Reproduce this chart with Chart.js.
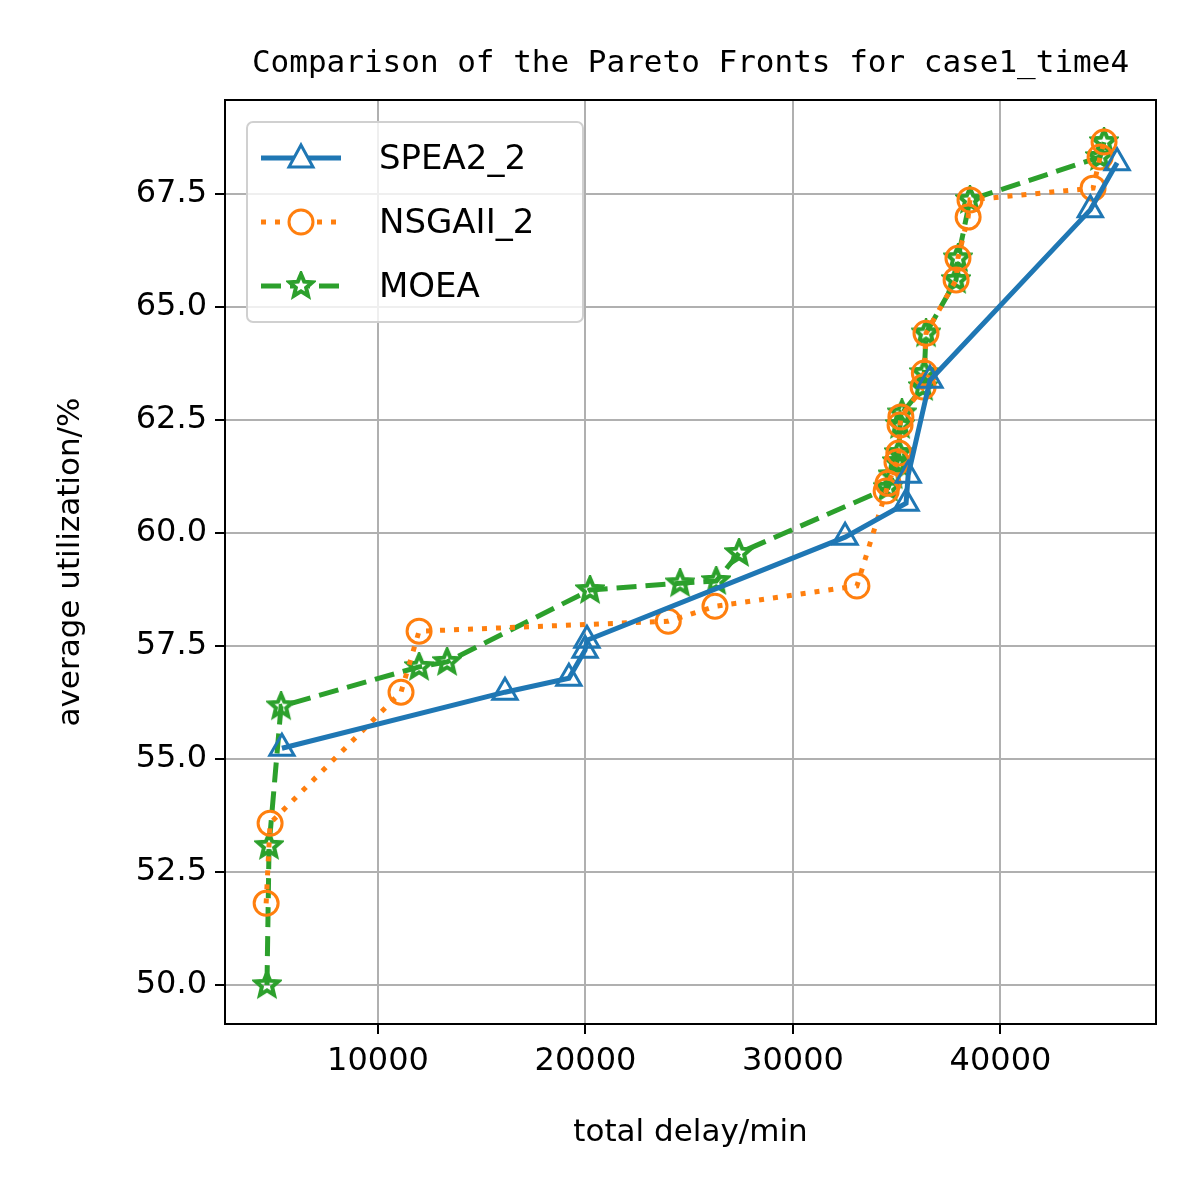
<!DOCTYPE html>
<html>
<head>
<meta charset="utf-8">
<script src="https://cdn.jsdelivr.net/npm/chart.js@4.4.0/dist/chart.umd.min.js"></script>
<style>body{margin:0;background:#fff}</style>
</head>
<body>
<canvas id="c" width="1200" height="1200"></canvas>
<script>
// data
const speaX = [5370, 16120, 19200, 19980, 20070, 32510, 35450, 35550, 36600, 44330, 45620];
const speaY = [55.24, 56.48, 56.79, 57.41, 57.63, 59.91, 60.66, 61.28, 63.38, 67.15, 68.19];
const nsgaX = [4610, 4800, 11110, 11980, 23990, 26240, 33080, 34490, 34580, 35010, 35100, 35160, 35200, 36270, 36330, 36410, 37860, 37950, 38440, 38530, 44460, 44800, 44990];
const nsgaY = [51.81, 53.58, 56.48, 57.83, 58.05, 58.38, 58.83, 60.93, 61.1, 61.57, 61.77, 62.39, 62.57, 63.23, 63.54, 64.42, 65.6, 66.08, 66.99, 67.37, 67.63, 68.32, 68.65];
const moeaX = [4650, 4750, 5330, 11980, 13330, 20220, 24560, 26300, 27400, 34580, 34800, 35010, 35100, 35160, 35250, 36270, 36330, 36410, 37860, 37950, 38530, 44800, 44990];
const moeaY = [50.0, 53.08, 56.17, 57.04, 57.15, 58.74, 58.89, 58.94, 59.56, 61.0, 61.28, 61.57, 61.77, 62.39, 62.65, 63.23, 63.54, 64.42, 65.6, 66.08, 67.37, 68.32, 68.65];
const xTicks = [10000, 20000, 30000, 40000];
const yTicks = [50.0, 52.5, 55.0, 57.5, 60.0, 62.5, 65.0, 67.5];

const blue = '#1f77b4', orange = '#ff7f0e', green = '#2ca02c';

function starImage(size, color) {
    const cv = document.createElement('canvas');
    cv.width = size; cv.height = size;
    const g = cv.getContext('2d');
    const c = size / 2, ro = size / 2 - 3, ri = ro * 0.45;
    g.beginPath();
    for (let i = 0; i < 10; i++) {
        const r = i % 2 ? ri : ro;
        const a = -Math.PI / 2 + i * Math.PI / 5;
        g.lineTo(c + r * Math.cos(a), c + r * Math.sin(a));
    }
    g.closePath();
    g.lineWidth = 4;
    g.strokeStyle = color;
    g.stroke();
    return cv;
}
const star = starImage(30, green);

function pts(xs, ys) { return xs.map((x, i) => ({x: x, y: ys[i]})); }

const legendItems = [
    {label: 'SPEA2_2', color: blue, dash: [], style: 'triangle'},
    {label: 'NSGAII_2', color: orange, dash: [5, 9], style: 'circle'},
    {label: 'MOEA', color: green, dash: [20, 9], style: 'star'}
];

const extras = {
    id: 'extras',
    afterDraw(chart) {
        const ctx = chart.ctx, a = chart.chartArea;
        ctx.save();
        // frame
        ctx.strokeStyle = '#000';
        ctx.lineWidth = 2;
        ctx.strokeRect(a.left, a.top, a.right - a.left, a.bottom - a.top);
        ctx.fillStyle = '#000';
        ctx.font = '31px "DejaVu Sans Mono"';
        ctx.textAlign = 'center';
        ctx.textBaseline = 'alphabetic';
        ctx.fillText('Comparison of the Pareto Fronts for case1_time4', (a.left + a.right) / 2, 72);
        // legend box
        const bx = a.left + 22, by = a.top + 22, bw = 336, bh = 200;
        ctx.fillStyle = 'rgba(255,255,255,0.8)';
        ctx.strokeStyle = '#d0d0d0';
        ctx.lineWidth = 2;
        ctx.beginPath();
        ctx.roundRect(bx, by, bw, bh, 6);
        ctx.fill(); ctx.stroke();
        legendItems.forEach((it, i) => {
            const y = by + 36 + i * 64;
            ctx.strokeStyle = it.color;
            ctx.lineWidth = 5;
            ctx.setLineDash(it.dash);
            ctx.beginPath(); ctx.moveTo(bx + 14, y); ctx.lineTo(bx + 94, y); ctx.stroke();
            ctx.setLineDash([]);
            ctx.lineWidth = 3;
            const cx = bx + 54;
            if (it.style === 'triangle') {
                ctx.beginPath(); ctx.moveTo(cx, y - 13); ctx.lineTo(cx + 12, y + 9); ctx.lineTo(cx - 12, y + 9); ctx.closePath();
                ctx.fillStyle = '#fff'; ctx.fill(); ctx.stroke();
            } else if (it.style === 'circle') {
                ctx.beginPath(); ctx.arc(cx, y, 12, 0, Math.PI * 2);
                ctx.fillStyle = '#fff'; ctx.fill(); ctx.stroke();
            } else {
                ctx.fillStyle = '#fff';
                ctx.beginPath(); ctx.arc(cx, y, 8, 0, Math.PI * 2); ctx.fill();
                ctx.drawImage(star, cx - 15, y - 15);
            }
            ctx.fillStyle = '#000';
            ctx.font = '34px "DejaVu Sans"';
            ctx.textAlign = 'left';
            ctx.textBaseline = 'middle';
            ctx.fillText(it.label, bx + 132, y + 2);
        });
        ctx.restore();
    }
};

const tickFont = {family: '"DejaVu Sans"', size: 32};
new Chart(document.getElementById('c'), {
    type: 'scatter',
    data: {
        datasets: [
            {label: 'SPEA2_2', data: pts(speaX, speaY), showLine: true, borderColor: blue, borderWidth: 5,
             pointStyle: 'triangle', pointRadius: 14, pointBorderWidth: 3, pointBackgroundColor: 'rgba(0,0,0,0)'},
            {label: 'NSGAII_2', data: pts(nsgaX, nsgaY), showLine: true, borderColor: orange, borderWidth: 5, borderDash: [5, 9],
             pointStyle: 'circle', pointRadius: 12, pointBorderWidth: 3, pointBackgroundColor: 'rgba(0,0,0,0)'},
            {label: 'MOEA', data: pts(moeaX, moeaY), showLine: true, borderColor: green, borderWidth: 5, borderDash: [20, 9],
             pointStyle: star, pointBorderColor: green}
        ]
    },
    options: {
        responsive: false,
        animation: false,
        devicePixelRatio: 1,
        layout: {padding: {top: 100, right: 44, bottom: 48, left: 52}},
        plugins: {legend: {display: false}, title: {display: false}, tooltip: {enabled: false}},
        scales: {
            x: {
                min: 2627, max: 47494,
                afterBuildTicks: s => { s.ticks = xTicks.map(v => ({value: v})); },
                afterFit: s => { s.height = 128; },
                ticks: {font: tickFont, color: '#000', padding: 8, callback: v => String(v)},
                grid: {color: '#b0b0b0', lineWidth: 2, tickColor: '#000', tickLength: 10},
                border: {color: '#000', width: 2},
                title: {display: true, text: 'total delay/min', font: {family: '"DejaVu Sans"', size: 31}, color: '#000', padding: 0}
            },
            y: {
                min: 49.14, max: 69.58,
                afterBuildTicks: s => { s.ticks = yTicks.map(v => ({value: v})); },
                afterFit: s => { s.width = 173; },
                ticks: {font: tickFont, color: '#000', padding: 8, callback: v => v.toFixed(1)},
                grid: {color: '#b0b0b0', lineWidth: 2, tickColor: '#000', tickLength: 10},
                border: {color: '#000', width: 2},
                title: {display: true, text: 'average utilization/%', font: {family: '"DejaVu Sans"', size: 31}, color: '#000', padding: 0}
            }
        }
    },
    plugins: [extras]
});
</script>
</body>
</html>
